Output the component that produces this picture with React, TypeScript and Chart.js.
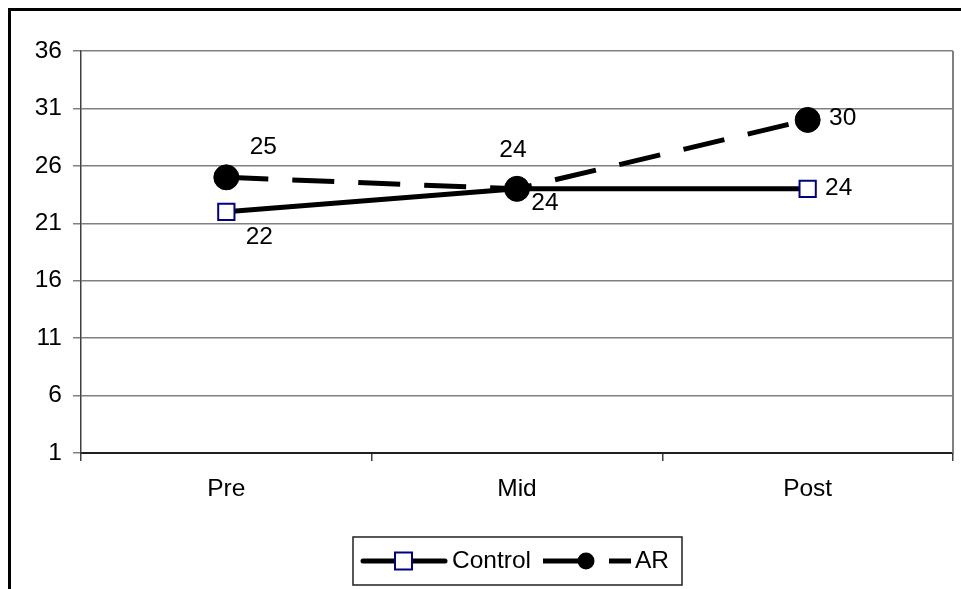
import { useEffect, useRef } from 'react';
import { Chart, registerables } from 'chart.js';

Chart.register(...registerables);

const categories = ['Pre', 'Mid', 'Post'];
const controlValues = [22, 24, 24];
const arValues = [25, 24, 30];
const yTicks = [1, 6, 11, 16, 21, 26, 31, 36];
const seriesNames = ['Control', 'AR'];

const FONT_FAMILY = '"Liberation Sans", Arial, Helvetica, sans-serif';
const FONT_SIZE = 24.5;
const AR_DASH = [42, 24];

// per-series, per-point label offsets (px) relative to the point
const labelOffsets = [
  [[33, 25], [28, 14], [31, -1]],
  [[37, -30], [-4, -39], [35, -2]],
];

const dataLabelPlugin = {
  id: 'dataLabels',
  afterDatasetsDraw(chart: any) {
    const ctx = chart.ctx;
    ctx.save();
    ctx.font = `${FONT_SIZE}px ${FONT_FAMILY}`;
    ctx.fillStyle = '#000';
    ctx.textAlign = 'center';
    ctx.textBaseline = 'middle';
    chart.data.datasets.forEach((ds: any, di: number) => {
      const meta = chart.getDatasetMeta(di);
      meta.data.forEach((pt: any, i: number) => {
        const [dx, dy] = labelOffsets[di][i];
        ctx.fillText(String(ds.data[i]), pt.x + dx, pt.y + dy);
      });
    });
    ctx.restore();
  },
};

const plotBorderPlugin = {
  id: 'plotBorder',
  beforeDatasetsDraw(chart: any) {
    const { ctx, chartArea } = chart;
    ctx.save();
    ctx.strokeStyle = '#808080';
    ctx.lineWidth = 2;
    ctx.beginPath();
    ctx.moveTo(chartArea.right, chartArea.top);
    ctx.lineTo(chartArea.right, chartArea.bottom);
    ctx.stroke();
    ctx.restore();
  },
};

const customLegendPlugin = {
  id: 'customLegend',
  afterDraw(chart: any) {
    const ctx = chart.ctx;
    const boxX = 342, boxY = 526, boxW = 329, boxH = 48;
    const cy = boxY + boxH / 2;
    ctx.save();
    ctx.fillStyle = '#fff';
    ctx.fillRect(boxX, boxY, boxW, boxH);
    ctx.strokeStyle = '#202020';
    ctx.lineWidth = 1.5;
    ctx.strokeRect(boxX, boxY, boxW, boxH);

    // Control sample
    ctx.strokeStyle = '#000';
    ctx.lineWidth = 5;
    ctx.lineCap = 'round';
    ctx.beginPath();
    ctx.moveTo(352, cy);
    ctx.lineTo(434, cy);
    ctx.stroke();
    ctx.lineCap = 'butt';
    ctx.fillStyle = '#fff';
    ctx.fillRect(384, cy - 8.5, 17, 17);
    ctx.strokeStyle = '#000080';
    ctx.lineWidth = 2;
    ctx.strokeRect(384, cy - 8.5, 17, 17);

    ctx.font = `${FONT_SIZE}px ${FONT_FAMILY}`;
    ctx.fillStyle = '#000';
    ctx.textAlign = 'left';
    ctx.textBaseline = 'middle';
    ctx.fillText(seriesNames[0], 441, cy);

    // AR sample
    ctx.strokeStyle = '#000';
    ctx.lineWidth = 5;
    ctx.setLineDash(AR_DASH);
    ctx.beginPath();
    ctx.moveTo(532, cy);
    ctx.lineTo(620, cy);
    ctx.stroke();
    ctx.setLineDash([]);
    ctx.fillStyle = '#000';
    ctx.beginPath();
    ctx.arc(575, cy, 8.5, 0, Math.PI * 2);
    ctx.fill();
    ctx.fillText(seriesNames[1], 624, cy);
    ctx.restore();
  },
};

export default function App() {
  const canvasRef = useRef<HTMLCanvasElement | null>(null);

  useEffect(() => {
    if (!canvasRef.current) return;
    const chart = new Chart(canvasRef.current, {
      type: 'line',
      data: {
        labels: categories,
        datasets: [
          {
            label: seriesNames[0],
            data: controlValues,
            borderColor: '#000',
            borderWidth: 5,
            tension: 0,
            fill: false,
            pointStyle: 'rect',
            pointRadius: 11.5,
            pointBackgroundColor: '#fff',
            pointBorderColor: '#000080',
            pointBorderWidth: 2,
            order: 2,
          },
          {
            label: seriesNames[1],
            data: arValues,
            borderColor: '#000',
            borderWidth: 5,
            borderDash: AR_DASH,
            tension: 0,
            fill: false,
            pointStyle: 'circle',
            pointRadius: 12.5,
            pointBackgroundColor: '#000',
            pointBorderColor: '#000',
            pointBorderWidth: 1,
            order: 1,
          },
        ],
      },
      options: {
        responsive: false,
        animation: false,
        devicePixelRatio: 1,
        layout: { autoPadding: false, padding: { top: 40, right: 8, bottom: 76, left: 0 } },
        plugins: {
          legend: { display: false },
          tooltip: { enabled: false },
        },
        scales: {
          x: {
            type: 'category',
            offset: true,
            grid: {
              offset: true,
              drawOnChartArea: false,
              drawTicks: true,
              tickLength: 8,
              color: '#404040',
              lineWidth: 1.5,
            },
            border: { display: true, color: '#202020', width: 2 },
            ticks: {
              font: { family: FONT_FAMILY, size: FONT_SIZE },
              color: '#000',
              padding: 14,
            },
            afterFit: (s: any) => {
              s.height = 60;
              s.paddingLeft = 0;
              s.paddingRight = 0;
            },
          },
          y: {
            min: 1,
            max: 36,
            afterBuildTicks: (s: any) => {
              s.ticks = yTicks.map((v) => ({ value: v }));
            },
            grid: { color: '#808080', lineWidth: 1.5, tickLength: 8 },
            border: { display: true, color: '#404040', width: 1.5 },
            ticks: {
              font: { family: FONT_FAMILY, size: FONT_SIZE },
              color: '#000',
              padding: 11,
            },
            afterFit: (s: any) => {
              s.width = 70;
            },
          },
        },
      },
      plugins: [plotBorderPlugin, dataLabelPlugin, customLegendPlugin],
    } as any);
    return () => chart.destroy();
  }, []);

  return (
    <div
      style={{
        position: 'fixed',
        left: 8,
        top: 8,
        width: 953,
        height: 581,
        boxSizing: 'border-box',
        borderTop: '3px solid #000',
        borderLeft: '3px solid #000',
        background: '#fff',
      }}
    >
      <canvas ref={canvasRef} width={950} height={578} style={{ display: 'block', width: 950, height: 578 }} />
    </div>
  );
}
